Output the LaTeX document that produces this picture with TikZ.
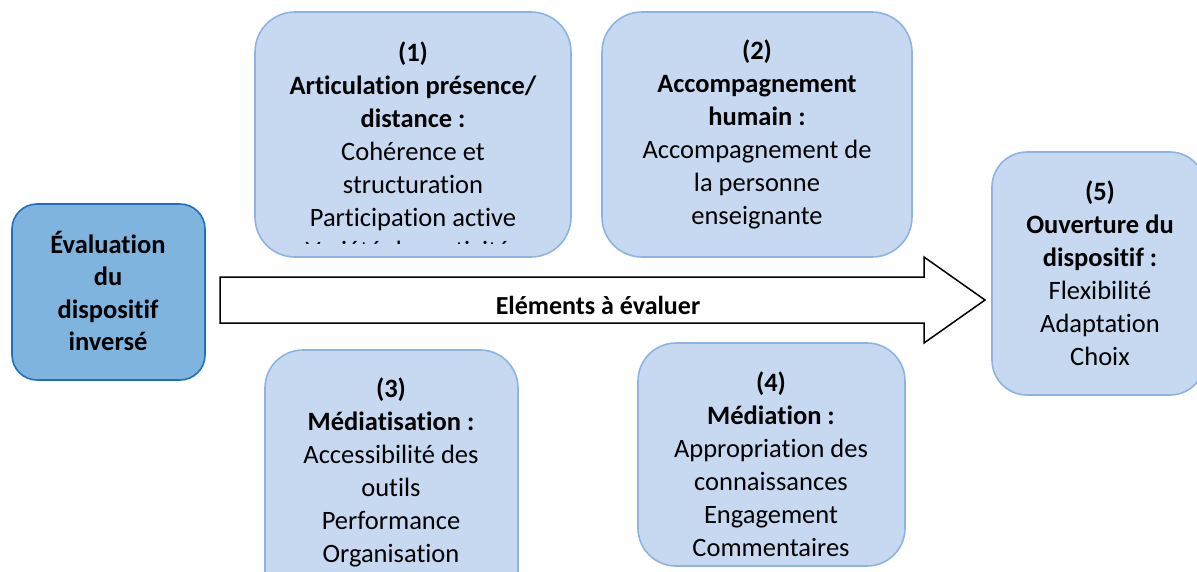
\documentclass[tikz,border=0pt]{standalone}
\usepackage{fontspec}
\setmainfont{Carlito}[Ligatures=NoCommon]
\definecolor{lightfill}{HTML}{C6D9F0}
\definecolor{lightedge}{HTML}{8DB3E2}
\definecolor{darkfill}{HTML}{7FB4DF}
\definecolor{darkedge}{HTML}{1F6FBF}
\tikzset{
  lightbox/.style={draw=lightedge, fill=lightfill, line width=1.6pt},
  darkbox/.style={draw=darkedge, fill=darkfill, line width=1.6pt},
  boxtext/.style={align=center, inner sep=0pt, font=\fontsize{26.5}{33}\selectfont},
  bigarrow/.style={draw=black, fill=white, line width=1.5pt, line join=miter}
}
\begin{document}
\begin{tikzpicture}[x=1pt,y=-1pt]
\useasboundingbox (0,0) rectangle (1197,571);
\clip (0,0) rectangle (1197,571);

% left box
\draw[darkbox, rounded corners=25pt] (12,204) rectangle (205,380);
\node[boxtext, font=\fontsize{26.5}{32.3}\selectfont\bfseries] (eval) at (108,291)
  {Évaluation\\du\\dispositif\\inversé};

% big arrow
\draw[bigarrow] (220,277) -- (924,277) -- (924,257) -- (985,300) -- (924,343)
  -- (924,323) -- (220,323) -- cycle;
\node[boxtext, font=\fontsize{26}{30}\selectfont\bfseries] (lab) at (598,305) {Eléments à évaluer};

% box 1
\draw[lightbox, rounded corners=40pt] (255,12) rectangle (571,257);
\begin{scope}
  \clip (255,12) rectangle (571,243);
  \node[boxtext] (t1) at (413,151)
    {\textbf{(1)}\\\textbf{Articulation présence/}\\\textbf{distance :}\\Cohérence et\\structuration\\Participation active\\Variété des activités};
\end{scope}

% box 2
\draw[lightbox, rounded corners=40pt] (602,12) rectangle (912,257);
\node[boxtext] (t2) at (757,134.5)
  {\textbf{(2)}\\\textbf{Accompagnement}\\\textbf{humain :}\\Accompagnement de\\la personne\\enseignante};

% box 5
\draw[lightbox, rounded corners=35pt] (992,152) rectangle (1205,395);
\node[boxtext] (t5) at (1100,273.5)
  {\textbf{(5)}\\\textbf{Ouverture du}\\\textbf{dispositif :}\\Flexibilité\\Adaptation\\Choix};

% box 3
\draw[lightbox, rounded corners=38pt] (265,350) rectangle (518,610);
\node[boxtext] (t3) at (391,472)
  {\textbf{(3)}\\\textbf{Médiatisation :}\\Accessibilité des\\outils\\Performance\\Organisation};

% box 4
\draw[lightbox, rounded corners=38pt] (638,343) rectangle (905,566);
\node[boxtext] (t4) at (771,464.5)
  {\textbf{(4)}\\\textbf{Médiation :}\\Appropriation des\\connaissances\\Engagement\\Commentaires};
\end{tikzpicture}
\end{document}
